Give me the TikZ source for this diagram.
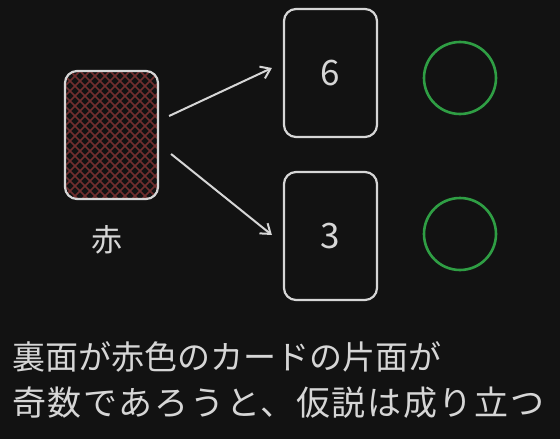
\documentclass[tikz,border=0pt]{standalone}
\usepackage{fontspec}
\setmainfont{Noto Sans CJK JP}
\usepackage{xcolor}
\usetikzlibrary{positioning,arrows.meta}

\definecolor{bgdark}{HTML}{121212}
\definecolor{inkgray}{HTML}{D6D6D6}
\definecolor{okgreen}{HTML}{2F9E44}
\definecolor{hatchred}{RGB}{112,46,46}

\begin{document}
\begin{tikzpicture}[
    x=1pt, y=-1pt,
    >={Straight Barb[length=9pt,width=13pt]},
    card/.style={rectangle, draw=inkgray, line width=2.2pt, rounded corners=12pt, minimum width=93pt, minimum height=128pt, inner sep=0pt, text=inkgray, font=\fontsize{35}{35}\selectfont},
    okring/.style={circle, draw=okgreen, line width=2.6pt, minimum size=72pt, inner sep=0pt},
    arrow/.style={->, line width=2pt, draw=inkgray},
    caption/.style={anchor=west, text=inkgray, inner sep=0pt}
]

% background and frame
\fill[bgdark] (0,0) rectangle (560,439);
\useasboundingbox (0,0) rectangle (560,439);

% back of the red card (hatched)
\begin{scope}
  \clip[rounded corners=12pt] (65,71) rectangle (158,199);
  \foreach \k in {-200,-190,...,300} {
    \draw[hatchred, line width=1.5pt] (\k,71) -- ++(140,140);
    \draw[hatchred, line width=1.5pt] (\k,211) -- ++(140,-140);
  }
\end{scope}
\node[card] (red) at (111.5,135) {};
\node[text=inkgray, font=\fontsize{31}{31}\selectfont] (redlabel) at (107,240) {赤};

% face cards
\node[card] (six) at (330.5,73) {6};
\node[card] (three) at (330.5,236) {3};

% results
\node[okring] (okA) at (460,78) {};
\node[okring] (okB) at (460,234) {};

% arrows
\draw[arrow] ([shift={(10,-19)}]red.east) -- ([shift={(-11,-5)}]six.west);
\draw[arrow] ([shift={(12,19)}]red.east) -- ([shift={(-11,-1)}]three.west);

% caption
\node[caption, font=\fontsize{33}{33}\selectfont] (lineA) at (12,357) {裏面が赤色のカードの片面が};
\node[caption, font=\fontsize{34}{34}\selectfont\addfontfeature{LetterSpace=5}] (lineB) at (12,403) {奇数であろうと、仮説は成り立つ};

\end{tikzpicture}
\end{document}
